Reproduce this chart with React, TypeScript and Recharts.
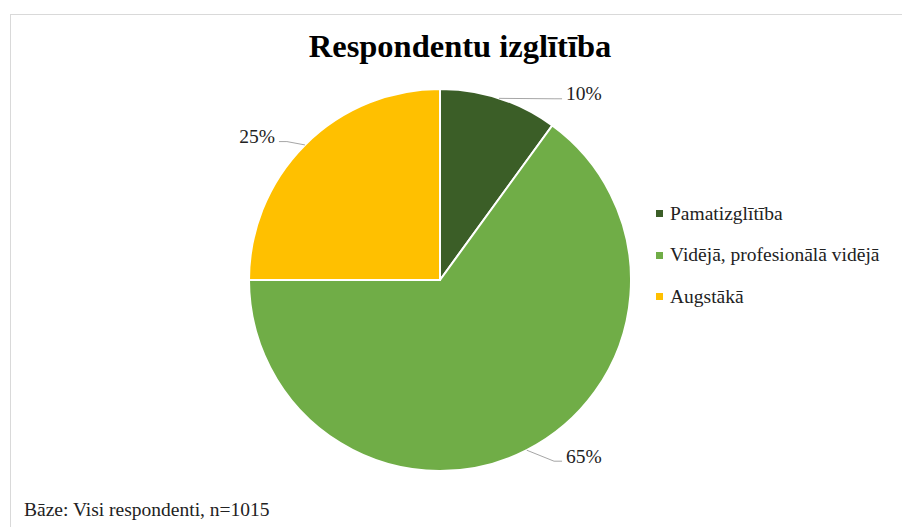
import { Legend, Pie, PieChart, Cell } from 'recharts';

const categories = ['Pamatizglītība', 'Vidējā, profesionālā vidējā', 'Augstākā'];
const shares = [10, 65, 25];
const colors = ['#3b5e27', '#70ad47', '#ffc000'];

const chartData = categories.map((name, i) => ({ name, value: shares[i] }));

const RAD = Math.PI / 180;
const serif = '"Liberation Serif", "Times New Roman", serif';

function renderLabel(props: any) {
  const { cx, cy, midAngle, outerRadius, value } = props;
  const s = Math.sin(-midAngle * RAD);
  const c = Math.cos(-midAngle * RAD);
  const ex = cx + outerRadius * c;
  const ey = cy + outerRadius * s;
  const right = c >= 0;
  const tx = right ? Math.max(ex + 30, cx + outerRadius * 0.66) : Math.min(ex - 30, cx - outerRadius * 0.66);
  const ty = ey + 9 * s + (Math.abs(s) > 0.9 ? 6 : 0);
  const ly = ty + 3;
  const lx = right ? tx - 4 : tx + 4;
  const kx = right ? tx - 12 : tx + 12;
  return (
    <g>
      <polyline
        points={`${ex},${ey} ${kx},${ly} ${lx},${ly}`}
        fill="none"
        stroke="#a6a6a6"
        strokeWidth={1}
      />
      <text
        x={tx}
        y={ty}
        textAnchor={right ? 'start' : 'end'}
        dominantBaseline="middle"
        fontFamily={serif}
        fontSize={19.5}
        fill="#222"
      >
        {`${value}%`}
      </text>
    </g>
  );
}

function LegendContent() {
  return (
    <div style={{ fontFamily: serif, fontSize: 19.5, color: '#222' }}>
      {categories.map((name, i) => (
        <div key={name} style={{ display: 'flex', alignItems: 'center', height: 41.5 }}>
          <span
            style={{ display: 'inline-block', width: 7, height: 7, background: colors[i], marginRight: 7 }}
          />
          <span>{name}</span>
        </div>
      ))}
    </div>
  );
}

export default function App() {
  return (
    <div style={{ position: 'absolute', left: 0, top: 0, width: 902, height: 527, overflow: 'hidden', background: '#fff' }}>
      <div
        style={{
          position: 'absolute',
          left: 10,
          top: 14,
          width: 900,
          height: 540,
          border: '1px solid #d9d9d9',
        }}
      />
      <div
        style={{
          position: 'absolute',
          left: 0,
          top: 28,
          width: 920,
          textAlign: 'center',
          fontFamily: serif,
          fontWeight: 'bold',
          fontSize: 32.5,
          color: '#000',
        }}
      >
        Respondentu izglītība
      </div>
      <PieChart
        width={902}
        height={527}
        margin={{ top: 0, right: 0, bottom: 0, left: 0 }}
        style={{ position: 'absolute', left: 0, top: 0 }}
      >
        <Pie
          data={chartData}
          dataKey="value"
          nameKey="name"
          cx={440}
          cy={280}
          outerRadius={191}
          startAngle={90}
          endAngle={-270}
          stroke="#fff"
          strokeWidth={2}
          label={renderLabel}
          labelLine={false}
          isAnimationActive={false}
        >
          {chartData.map((d, i) => (
            <Cell key={d.name} fill={colors[i]} />
          ))}
        </Pie>
        <Legend
          layout="vertical"
          content={<LegendContent />}
          wrapperStyle={{ position: 'absolute', left: 656, top: 193, width: 246 }}
        />
      </PieChart>
      <div
        style={{
          position: 'absolute',
          left: 24,
          top: 499,
          fontFamily: serif,
          fontSize: 19.5,
          color: '#222',
        }}
      >
        Bāze: Visi respondenti, n=1015
      </div>
    </div>
  );
}
